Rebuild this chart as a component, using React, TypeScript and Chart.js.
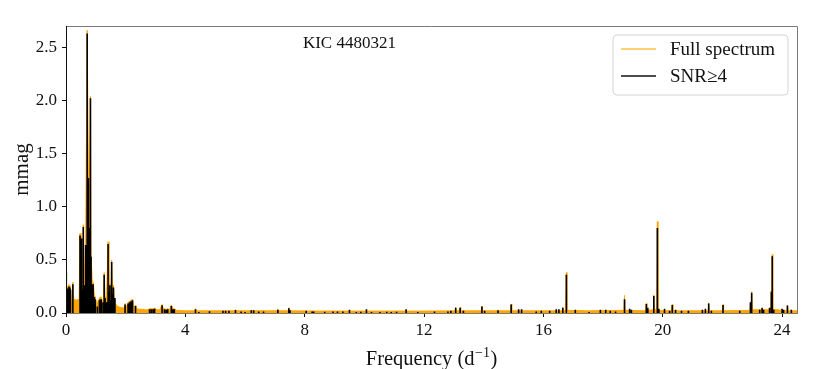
import React, { useEffect, useRef } from "react";
import { Chart, registerables } from "chart.js";

Chart.register(...registerables);

// ---------- Data ----------
const fullFreq = [
  0.0, 0.01, 0.02, 0.04, 0.06, 0.08, 0.1, 0.115, 0.13, 0.15, 0.17, 0.2, 0.23, 0.26, 0.3, 0.35, 0.4, 0.44,
  0.47, 0.5, 0.52, 0.55, 0.58, 0.62, 0.66, 0.71, 0.75, 0.77, 0.82, 0.84, 0.88, 0.91, 0.95, 0.98,
  1.02, 1.05, 1.08, 1.12, 1.15, 1.18, 1.22, 1.25, 1.28, 1.31, 1.36, 1.41, 1.44, 1.47, 1.5, 1.53,
  1.56, 1.59, 1.62, 1.64, 1.66, 1.7, 1.75, 1.8, 1.85, 1.9, 1.95, 1.98, 2.02, 2.08, 2.13, 2.18,
  2.23, 2.27, 2.33, 2.37, 2.45, 2.55, 2.65, 2.75, 2.8, 2.86, 2.92, 2.97, 3.05, 3.15, 3.22, 3.27,
  3.3, 3.36, 3.41, 3.47, 3.53, 3.58, 3.63, 3.7, 3.85, 4.0, 4.31, 4.34, 4.37, 5.0, 5.66, 5.68,
  5.7, 6.5, 7.08, 7.1, 7.12, 7.45, 7.47, 7.49, 8.5, 10.0, 12.0, 13.04, 13.06, 13.08, 13.19, 13.21,
  13.23, 13.92, 13.94, 13.96, 14.9, 14.92, 14.94, 16.0, 16.63, 16.65, 16.67, 16.75, 16.77, 16.79, 17.5, 18.7,
  18.72, 18.74, 19.43, 19.45, 19.47, 19.68, 19.7, 19.72, 19.8, 19.82, 19.84, 19.9, 20.3, 20.32, 20.34, 21.52,
  21.54, 21.56, 22.0, 22.02, 22.04, 22.92, 22.94, 22.96, 22.98, 23.0, 23.62, 23.64, 23.655, 23.67, 23.69, 24.16,
  24.18, 24.2, 24.5,
];
const fullAmp = [
  0.12, 0.4, 0.12, 0.11, 0.25, 0.12, 0.27, 0.13, 0.26, 0.24, 0.12, 0.11, 0.29, 0.12, 0.13, 0.12, 0.13, 0.12,
  0.75, 0.27, 0.72, 0.24, 0.83, 0.28, 0.66, 2.66, 1.29, 0.82, 2.04, 0.55, 0.29, 0.29, 0.17, 0.15,
  0.1, 0.08, 0.12, 0.14, 0.15, 0.15, 0.11, 0.1, 0.38, 0.16, 0.12, 0.67, 0.22, 0.28, 0.14, 0.5,
  0.2, 0.26, 0.15, 0.15, 0.09, 0.07, 0.06, 0.055, 0.05, 0.05, 0.045, 0.09, 0.045, 0.1, 0.11, 0.12,
  0.13, 0.05, 0.075, 0.04, 0.035, 0.035, 0.03, 0.03, 0.04, 0.04, 0.04, 0.045, 0.03, 0.03, 0.08, 0.03,
  0.04, 0.035, 0.04, 0.03, 0.075, 0.04, 0.04, 0.025, 0.022, 0.02, 0.02, 0.04, 0.02, 0.02, 0.02, 0.03,
  0.02, 0.02, 0.02, 0.035, 0.02, 0.02, 0.05, 0.02, 0.018, 0.018, 0.018, 0.02, 0.052, 0.02, 0.02, 0.052,
  0.02, 0.02, 0.065, 0.02, 0.02, 0.085, 0.02, 0.02, 0.02, 0.052, 0.02, 0.025, 0.38, 0.025, 0.02, 0.025,
  0.165, 0.025, 0.02, 0.09, 0.025, 0.03, 0.17, 0.03, 0.04, 0.86, 0.04, 0.025, 0.02, 0.08, 0.02, 0.02,
  0.095, 0.02, 0.02, 0.08, 0.02, 0.025, 0.105, 0.05, 0.2, 0.03, 0.03, 0.21, 0.1, 0.55, 0.035, 0.02,
  0.075, 0.02, 0.02,
];

const snrFreq = [
  0.01, 0.06, 0.1, 0.13, 0.15, 0.23, 0.47, 0.5, 0.52, 0.55, 0.58, 0.62, 0.66, 0.71, 0.75, 0.77,
  0.82, 0.84, 0.88, 0.91, 0.95, 0.98, 1.05, 1.12, 1.15, 1.18, 1.24, 1.28, 1.31, 1.36, 1.41, 1.44,
  1.47, 1.5, 1.53, 1.56, 1.59, 1.62, 1.64, 1.98, 2.08, 2.13, 2.18, 2.23, 2.33, 2.8, 2.86, 2.92,
  2.97, 3.22, 3.3, 3.36, 3.41, 3.53, 3.58, 3.63, 4.34, 4.45, 4.81, 5.26, 5.35, 5.46, 5.68, 5.87,
  6.0, 6.21, 6.29, 6.46, 6.62, 7.1, 7.47, 7.51, 8.05, 8.25, 8.3, 8.67, 8.95, 9.1, 9.28, 9.5,
  9.73, 9.88, 10.07, 10.24, 10.52, 10.75, 10.9, 11.08, 11.4, 11.79, 12.35, 12.8, 12.9, 13.06, 13.21, 13.32,
  13.94, 14.03, 14.48, 14.92, 15.17, 15.27, 15.76, 15.93, 16.21, 16.43, 16.52, 16.65, 16.77, 17.07, 17.53, 17.91,
  18.09, 18.24, 18.42, 18.72, 18.89, 18.95, 19.45, 19.5, 19.7, 19.82, 19.87, 20.06, 20.23, 20.32, 20.43, 20.63,
  20.86, 21.33, 21.43, 21.54, 21.63, 22.02, 22.58, 22.94, 22.98, 23.25, 23.33, 23.38, 23.58, 23.64, 23.67, 23.72,
  24.0, 24.05, 24.18, 24.31,
];
const snrAmp = [
  0.39, 0.23, 0.25, 0.24, 0.22, 0.27, 0.73, 0.25, 0.7, 0.22, 0.81, 0.26, 0.64, 2.63, 1.27, 0.8,
  2.02, 0.53, 0.27, 0.27, 0.15, 0.13, 0.06, 0.12, 0.13, 0.13, 0.1, 0.36, 0.14, 0.1, 0.65, 0.2,
  0.26, 0.12, 0.48, 0.18, 0.24, 0.13, 0.14, 0.08, 0.09, 0.1, 0.11, 0.12, 0.065, 0.035, 0.035, 0.035,
  0.04, 0.072, 0.035, 0.03, 0.035, 0.066, 0.035, 0.035, 0.035, 0.01, 0.016, 0.022, 0.022, 0.022, 0.028, 0.015,
  0.01, 0.025, 0.025, 0.015, 0.015, 0.03, 0.044, 0.025, 0.02, 0.015, 0.015, 0.012, 0.015, 0.015, 0.015, 0.03,
  0.01, 0.012, 0.035, 0.01, 0.01, 0.012, 0.01, 0.012, 0.035, 0.01, 0.015, 0.015, 0.02, 0.05, 0.05, 0.02,
  0.06, 0.02, 0.025, 0.08, 0.035, 0.035, 0.015, 0.02, 0.02, 0.035, 0.035, 0.05, 0.36, 0.03, 0.01, 0.03,
  0.03, 0.02, 0.015, 0.13, 0.04, 0.03, 0.085, 0.05, 0.16, 0.8, 0.04, 0.04, 0.02, 0.075, 0.03, 0.02,
  0.02, 0.03, 0.04, 0.09, 0.02, 0.075, 0.02, 0.1, 0.19, 0.03, 0.05, 0.03, 0.05, 0.2, 0.535, 0.03,
  0.04, 0.03, 0.07, 0.03,
];

const xTicks = [0, 4, 8, 12, 16, 20, 24];
const yTicks = [0, 0.5, 1.0, 1.5, 2.0, 2.5];
const xRange = [0, 24.5];
const yRange = [0, 2.7];
const titleText = "KIC 4480321";
const xLabelMain = "Frequency (d";
const xLabelSup = "\u22121";
const xLabelEnd = ")";
const yLabel = "mmag";
const legendLabels = ["Full spectrum", "SNR\u22654"];

// ---------- Style ----------
const FONT = "'Liberation Serif', 'DejaVu Serif', serif";
const ORANGE = "#ffa500";
const ORANGE_LEGEND = "#ffc547";

export default function App() {
  const canvasRef = useRef<HTMLCanvasElement | null>(null);

  useEffect(() => {
    document.body.style.margin = "0";
    const canvas = canvasRef.current;
    if (!canvas) return;

    const fullData = fullFreq.map((f, i) => ({ x: f, y: fullAmp[i] }));
    const stemData: { x: number; y: number | null }[] = [];
    snrFreq.forEach((f, i) => {
      stemData.push({ x: f, y: 0 });
      stemData.push({ x: f, y: snrAmp[i] });
      stemData.push({ x: f, y: null });
    });

    const overlay = {
      id: "overlay",
      afterDatasetsDraw(chart: any) {
        const ctx = chart.ctx as CanvasRenderingContext2D;
        const a = chart.chartArea;
        ctx.save();
        // frame
        ctx.lineWidth = 1;
        ctx.strokeStyle = "#7a7a7a";
        ctx.beginPath();
        ctx.moveTo(a.left, a.top + 0.5);
        ctx.lineTo(a.right + 0.5, a.top + 0.5);
        ctx.lineTo(a.right + 0.5, a.bottom + 0.5);
        ctx.lineTo(a.left, a.bottom + 0.5);
        ctx.stroke();
        ctx.strokeStyle = "#111";
        ctx.beginPath();
        ctx.moveTo(a.left + 0.5, a.top);
        ctx.lineTo(a.left + 0.5, a.bottom + 1);
        ctx.stroke();

        // title in plot
        const xs = chart.scales.x;
        ctx.fillStyle = "#111";
        ctx.font = `17px ${FONT}`;
        ctx.textAlign = "center";
        ctx.textBaseline = "middle";
        ctx.fillText(titleText, xs.getPixelForValue(9.5), 44);

        // legend
        const lx = 613, ly = 35, lw = 175, lh = 60, r = 4;
        ctx.beginPath();
        ctx.moveTo(lx + r, ly);
        ctx.lineTo(lx + lw - r, ly);
        ctx.arcTo(lx + lw, ly, lx + lw, ly + r, r);
        ctx.lineTo(lx + lw, ly + lh - r);
        ctx.arcTo(lx + lw, ly + lh, lx + lw - r, ly + lh, r);
        ctx.lineTo(lx + r, ly + lh);
        ctx.arcTo(lx, ly + lh, lx, ly + lh - r, r);
        ctx.lineTo(lx, ly + r);
        ctx.arcTo(lx, ly, lx + r, ly, r);
        ctx.closePath();
        ctx.fillStyle = "rgba(255,255,255,0.85)";
        ctx.fill();
        ctx.strokeStyle = "#d4d4d4";
        ctx.lineWidth = 1;
        ctx.stroke();

        const rows = [
          { y: 49, color: ORANGE_LEGEND, text: legendLabels[0] },
          { y: 76, color: "#111", text: legendLabels[1] },
        ];
        rows.forEach((row) => {
          ctx.strokeStyle = row.color;
          ctx.lineWidth = 1.5;
          ctx.beginPath();
          ctx.moveTo(621, row.y);
          ctx.lineTo(656, row.y);
          ctx.stroke();
          ctx.fillStyle = "#111";
          ctx.font = `19px ${FONT}`;
          ctx.textAlign = "left";
          ctx.textBaseline = "middle";
          ctx.fillText(row.text, 670, row.y + 1);
        });

        // x axis label with superscript
        ctx.fillStyle = "#111";
        ctx.textBaseline = "alphabetic";
        ctx.textAlign = "left";
        const mainFont = `20.5px ${FONT}`;
        const supFont = `14px ${FONT}`;
        ctx.font = mainFont;
        const w1 = ctx.measureText(xLabelMain).width;
        const w3 = ctx.measureText(xLabelEnd).width;
        ctx.font = supFont;
        const w2 = ctx.measureText(xLabelSup).width;
        const total = w1 + w2 + w3 + 1;
        const cx = (a.left + a.right) / 2;
        let x0 = cx - total / 2;
        const base = 365;
        ctx.font = mainFont;
        ctx.fillText(xLabelMain, x0, base);
        x0 += w1 + 0.5;
        ctx.font = supFont;
        ctx.fillText(xLabelSup, x0, base - 8);
        x0 += w2 + 0.5;
        ctx.font = mainFont;
        ctx.fillText(xLabelEnd, x0, base);

        // y axis label
        ctx.save();
        ctx.translate(28, (a.top + a.bottom) / 2);
        ctx.rotate(-Math.PI / 2);
        ctx.font = `21px ${FONT}`;
        ctx.textAlign = "center";
        ctx.textBaseline = "alphabetic";
        ctx.fillText(yLabel, 0, 0);
        ctx.restore();

        ctx.restore();
      },
    };

    const chart = new Chart(canvas, {
      type: "line",
      data: {
        datasets: [
          {
            label: legendLabels[1],
            data: stemData as any,
            borderColor: "#000",
            borderWidth: 1.6,
            pointRadius: 0,
            fill: false,
            spanGaps: false,
            tension: 0,
            order: 1,
          },
          {
            label: legendLabels[0],
            data: fullData,
            borderColor: ORANGE,
            backgroundColor: ORANGE,
            borderWidth: 1,
            pointRadius: 0,
            fill: "origin",
            tension: 0,
            order: 2,
          },
        ],
      },
      options: {
        animation: false,
        responsive: false,
        devicePixelRatio: 1,
        events: [],
        layout: { padding: { left: 0, top: 26, right: 33, bottom: 0 } },
        plugins: {
          legend: { display: false },
          tooltip: { enabled: false },
          title: { display: false },
        },
        scales: {
          x: {
            type: "linear",
            min: xRange[0],
            max: xRange[1],
            afterBuildTicks: (s: any) => {
              s.ticks = xTicks.map((v) => ({ value: v }));
            },
            afterFit: (s: any) => {
              s.height = 56;
            },
            grid: {
              drawOnChartArea: false,
              drawTicks: true,
              tickLength: 4,
              color: "#111",
            },
            border: { display: true, color: "#7a7a7a" },
            ticks: {
              color: "#111",
              font: { family: FONT, size: 17 },
              padding: 3,
              maxRotation: 0,
              autoSkip: false,
              callback: (v: any) => String(v),
            },
          },
          y: {
            type: "linear",
            min: yRange[0],
            max: yRange[1],
            afterBuildTicks: (s: any) => {
              s.ticks = yTicks.map((v) => ({ value: v }));
            },
            afterFit: (s: any) => {
              s.width = 66;
            },
            grid: {
              drawOnChartArea: false,
              drawTicks: true,
              tickLength: 4,
              color: "#111",
            },
            border: { display: true, color: "#111" },
            ticks: {
              color: "#111",
              font: { family: FONT, size: 17 },
              padding: 5,
              autoSkip: false,
              callback: (v: any) => Number(v).toFixed(1),
            },
          },
        },
      },
      plugins: [overlay],
    });

    return () => {
      chart.destroy();
    };
  }, []);

  return (
    <div style={{ width: 830, height: 369, background: "#fff" }}>
      <canvas ref={canvasRef} width={830} height={369} style={{ display: "block" }} />
    </div>
  );
}
